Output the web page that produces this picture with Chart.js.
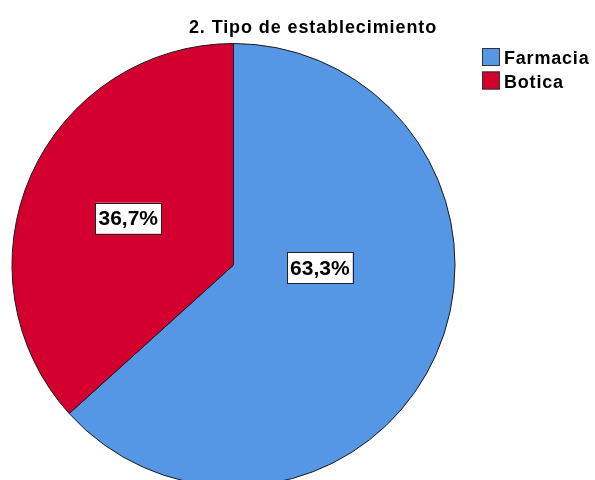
<!DOCTYPE html>
<html>
<head>
<meta charset="utf-8">
<script src="https://cdn.jsdelivr.net/npm/chart.js@4"></script>
<style>
  html, body { margin: 0; padding: 0; background: #fff; overflow: hidden; }
  #wrap { position: relative; width: 595px; height: 500px; }
</style>
</head>
<body>
<div id="wrap"><canvas id="pie"></canvas></div>
<script>
// Data
const chartTitle = '2. Tipo de establecimiento';
const categories = ['Farmacia', 'Botica'];
const percentages = [63.3, 36.7];
const sliceColors = ['#5596e5', '#d3002f'];

// Label placement inside each slice: angle shift (deg) from mid-angle, radius fraction
const labelPlacement = [
  { shift: -22, frac: 0.39 },
  { shift: 0, frac: 0.52 },
];

function fmtPct(v) { return v.toFixed(1).replace('.', ',') + '%'; }

// Title + legend drawn by hand (SPSS-like look)
const decorPlugin = {
  id: 'decor',
  afterDraw(chart) {
    const ctx = chart.ctx;
    ctx.save();
    ctx.fillStyle = '#000';
    ctx.textBaseline = 'alphabetic';
    ctx.font = 'bold 18px "Liberation Sans", Arial, sans-serif';
    ctx.letterSpacing = '0.9px';
    ctx.textAlign = 'center';
    ctx.fillText(chartTitle, 313, 33);

    // legend
    ctx.font = 'bold 18px "Liberation Sans", Arial, sans-serif';
    ctx.letterSpacing = '0.8px';
    ctx.textAlign = 'left';
    const ds = chart.data.datasets[0];
    chart.data.labels.forEach((lbl, i) => {
      const top = 48 + i * 23.5;
      ctx.fillStyle = ds.backgroundColor[i];
      ctx.fillRect(482, top, 18, 18);
      ctx.strokeStyle = '#333';
      ctx.lineWidth = 1;
      ctx.strokeRect(482.5, top + 0.5, 17, 17);
      ctx.fillStyle = '#000';
      ctx.fillText(lbl, 504, top + 16);
    });
    ctx.restore();
  },
};

// Percentage boxes
const boxLabels = {
  id: 'boxLabels',
  afterDatasetsDraw(chart) {
    const ctx = chart.ctx;
    const meta = chart.getDatasetMeta(0);
    const values = chart.data.datasets[0].data;
    ctx.save();
    ctx.font = 'bold 21px "Liberation Sans", Arial, sans-serif';
    ctx.textAlign = 'center';
    ctx.textBaseline = 'middle';
    meta.data.forEach((arc, i) => {
      const p = arc.getProps(['x', 'y', 'startAngle', 'endAngle', 'outerRadius'], true);
      const place = labelPlacement[i];
      const ang = (p.startAngle + p.endAngle) / 2 + place.shift * Math.PI / 180;
      const cx = p.x + Math.cos(ang) * p.outerRadius * place.frac;
      const cy = p.y + Math.sin(ang) * p.outerRadius * place.frac;
      const txt = fmtPct(values[i]);
      const w = ctx.measureText(txt).width + 6;
      const h = 31;
      ctx.fillStyle = '#fff';
      ctx.fillRect(cx - w / 2, cy - h / 2, w, h);
      ctx.strokeStyle = '#222';
      ctx.lineWidth = 1;
      ctx.strokeRect(Math.round(cx - w / 2) + 0.5, Math.round(cy - h / 2) + 0.5, Math.round(w), h);
      ctx.fillStyle = '#000';
      ctx.fillText(txt, cx, cy + 1);
    });
    ctx.restore();
  },
};

new Chart(document.getElementById('pie'), {
  type: 'pie',
  data: {
    labels: categories,
    datasets: [{
      data: percentages,
      backgroundColor: sliceColors,
      borderColor: '#1a1a1a',
      borderWidth: 1,
    }],
  },
  options: {
    responsive: true,
    maintainAspectRatio: false,
    animation: false,
    layout: { padding: { left: 11.5, right: 139.5, top: 43, bottom: 13 } },
    plugins: {
      legend: { display: false },
      title: { display: false },
      tooltip: { enabled: false },
    },
  },
  plugins: [boxLabels, decorPlugin],
});
</script>
</body>
</html>
